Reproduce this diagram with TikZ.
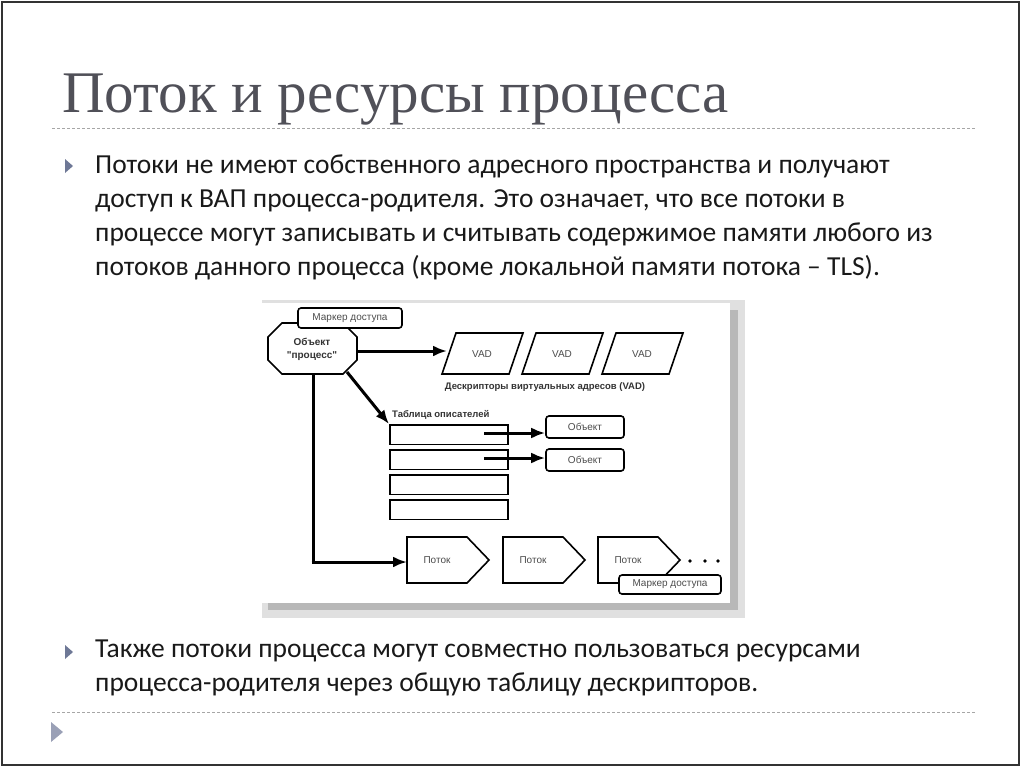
\documentclass[tikz,border=0pt]{standalone}
\usepackage{fontspec}
\setmainfont{Carlito}
\newfontfamily\titlefont{Liberation Serif}
\newfontfamily\dfont{Liberation Sans}
\usetikzlibrary{arrows.meta,shapes.geometric}
\definecolor{titlegray}{RGB}{80,80,88}
\definecolor{bul}{RGB}{110,120,150}
\tikzset{
 box/.style={draw,line width=1.6pt,inner sep=0pt,font=\dfont\fontsize{10}{11}\selectfont,text=black!70},
 rbox/.style={box,rounded corners=3pt},
 arr/.style={line width=3pt,-{Latex[length=14pt,width=11pt]}},
 bodytext/.style={anchor=north west,align=left,font=\fontsize{27.5}{34}\selectfont,inner sep=0pt,text=black!90},
}
\begin{document}
\begin{tikzpicture}[x=1pt,y=-1pt]
\useasboundingbox (0,0) rectangle (1024,768);
\draw[line width=1.5pt,black!80] (2,2) rectangle (1019,765);
\node[anchor=base west,inner sep=0pt,font=\titlefont\fontsize{59}{59}\selectfont,text=titlegray] (title) at (62,112) {Поток и ресурсы процесса};
\draw[black!35,dash pattern=on 3pt off 2pt] (52,128) -- (975,128);
\draw[black!35,dash pattern=on 3pt off 2pt] (52,712) -- (975,712);
\fill[bul] (65,159) -- (73,166) -- (65,173) -- cycle;
\fill[bul] (65,645) -- (73,652) -- (65,659) -- cycle;
\fill[bul!70] (51,722) -- (63,732) -- (51,742) -- cycle;
\node[bodytext] (t1) at (95,155) {Потоки не имеют собственного адресного пространства и получают\\доступ к ВАП процесса-родителя. Это означает, что все потоки в\\процессе могут записывать и считывать содержимое памяти любого из\\потоков данного процесса (кроме локальной памяти потока~-- TLS).};
\node[bodytext] (t2) at (95,640) {Также потоки процесса могут совместно пользоваться ресурсами\\процесса-родителя через общую таблицу дескрипторов.};
% diagram frame
\fill[black!12] (262,300) rectangle (745,618);
\fill[black!28] (268,310) rectangle (738,610);
\fill[white] (260,303) rectangle (730,603);
% nodes
\draw[line width=1.6pt,fill=white] (282,323) -- (343,323) -- (357,337) -- (357,360) -- (343,374) -- (282,374) -- (268,360) -- (268,337) -- cycle;
\coordinate (oct) at (312,349);
\node[font=\dfont\bfseries\fontsize{10}{13}\selectfont,align=center,text=black!80] (octt) at (oct) {Объект\\"процесс"};
\node[rbox,minimum width=104pt,minimum height=20pt,fill=white] (m1) at (350,318) {Маркер доступа};
\foreach \i/\x in {1/442,2/522,3/602}{
 \draw[line width=1.6pt] (\x,374) -- (\x+14,333) -- (\x+81,333) -- (\x+67,374) -- cycle;
 \node[font=\dfont\fontsize{10}{11}\selectfont,text=black!70] (vad\i) at (\x+40,354) {VAD};
}
\coordinate (vadin) at (447,351);
\draw[arr] (357,351) -- (vadin);
\node[font=\dfont\bfseries\fontsize{9.5}{10}\selectfont,text=black!80] (vadl) at (545,387) {Дескрипторы виртуальных адресов (VAD)};
\node[font=\dfont\bfseries\fontsize{9.5}{10}\selectfont,text=black!80,anchor=west,inner sep=0pt] (tabl) at (392,415) {Таблица описателей};
\foreach \i/\y in {1/424,2/449,3/474,4/499}{
 \node[box,minimum width=118pt,minimum height=19.5pt,anchor=north west] (r\i) at (389,\y) {};
}
\node[rbox,minimum width=78pt,minimum height=22pt] (o1) at (585,427) {Объект};
\node[rbox,minimum width=78pt,minimum height=22pt] (o2) at (585,460) {Объект};
\draw[arr] (484,433) -- (o1.west|-484,433);
\draw[arr] (484,458) -- (o2.west|-484,458);
\draw[arr] (347,372) -- (r1.north west);
\foreach \i/\x in {1/407,2/503,3/598}{
 \draw[line width=1.6pt,fill=white] (\x,537) -- (\x+60,537) -- (\x+82,560) -- (\x+60,583) -- (\x,583) -- cycle;
 \node[font=\dfont\fontsize{10}{11}\selectfont,text=black!70] (p\i) at (\x+30,560) {Поток};
}
\coordinate (p1in) at (407,562);
\draw[line width=3pt] (313,374) -- (313,562);
\draw[arr] (311.5,562) -- (p1in);
\foreach \x in {690,705,718} \fill (\x,561) circle (1.8pt);
\node[rbox,minimum width=102pt,minimum height=19pt,fill=white] (m2) at (670,584.5) {Маркер доступа};
\end{tikzpicture}
\end{document}
